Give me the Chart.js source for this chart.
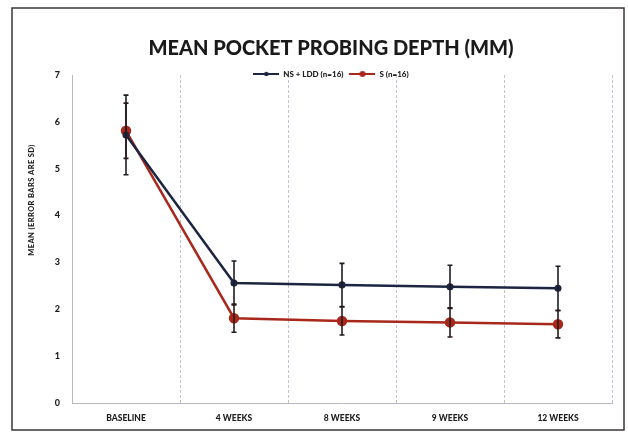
<!DOCTYPE html>
<html>
<head>
<meta charset="utf-8">
<script src="https://cdn.jsdelivr.net/npm/chart.js@4.4.1/dist/chart.umd.min.js"></script>
<style>
  html, body { margin: 0; padding: 0; background: #ffffff; }
  #wrap { width: 628px; height: 438px; position: relative; }
</style>
</head>
<body>
<div id="wrap"><canvas id="c" width="628" height="438"></canvas></div>
<script>
const categories = ['BASELINE', '4 WEEKS', '8 WEEKS', '9 WEEKS', '12 WEEKS'];
const nsLddMean = [5.72, 2.56, 2.52, 2.48, 2.45];
const nsLddSD   = [0.85, 0.47, 0.46, 0.46, 0.47];
const sMean     = [5.81, 1.81, 1.75, 1.72, 1.68];
const sSD       = [0.59, 0.30, 0.30, 0.31, 0.29];
const yTicks    = [0, 1, 2, 3, 4, 5, 6, 7];
const seriesNames = ['NS + LDD (n=16)', 'S (n=16)'];
const titleText = 'MEAN POCKET PROBING DEPTH (MM)';
const yTitleText = 'MEAN (ERROR BARS ARE SD)';

const NAVY = '#1d2540';
const RED = '#a8281b';
const FONT = 'Lato, "Open Sans", sans-serif';

function legendIcon(color, r) {
  const cv = document.createElement('canvas');
  cv.width = 26; cv.height = 10;
  const g = cv.getContext('2d');
  g.strokeStyle = color; g.lineWidth = 2;
  g.beginPath(); g.moveTo(0, 5); g.lineTo(26, 5); g.stroke();
  g.fillStyle = color;
  g.beginPath(); g.arc(13, 5, r, 0, Math.PI * 2); g.fill();
  return cv;
}
const icons = [legendIcon(NAVY, 2.2), legendIcon(RED, 3)];

const sdArrays = [nsLddSD, sSD];

const customPlugin = {
  id: 'custom',
  beforeDraw(chart) {
    const ctx = chart.ctx;
    ctx.save();
    ctx.fillStyle = '#ffffff';
    ctx.fillRect(0, 0, chart.width, chart.height);
    ctx.strokeStyle = '#3a3438';
    ctx.lineWidth = 1.5;
    ctx.strokeRect(12, 8, 612, 422);
    ctx.restore();
  },
  afterLayout(chart) {
    const t = chart.titleBlock;
    if (t) { t.left += 18; t.right += 18; const h = t.height; t.top = 49 - h / 2; t.bottom = t.top + h; }
    const l = chart.legend;
    if (l) { l.left += 18; l.right += 18; const h = l.height; l.top = 74 - 10; l.bottom = l.top + h; }
  },
  afterDatasetsDraw(chart) {
    const ctx = chart.ctx;
    const x = chart.scales.x, y = chart.scales.y;
    ctx.save();
    chart.data.datasets.forEach((ds, di) => {
      const sds = sdArrays[di];
      ds.data.forEach((v, i) => {
        const px = x.getPixelForValue(i);
        const top = y.getPixelForValue(v + sds[i]);
        const bot = y.getPixelForValue(v - sds[i]);
        ctx.strokeStyle = di === 0 ? '#1e1c26' : '#2a1a1a';
        ctx.lineWidth = 1.6;
        ctx.beginPath();
        ctx.moveTo(px, top); ctx.lineTo(px, bot);
        ctx.moveTo(px - 2.5, top); ctx.lineTo(px + 2.5, top);
        ctx.moveTo(px - 2.5, bot); ctx.lineTo(px + 2.5, bot);
        ctx.stroke();
      });
    });
    // y axis title
    const cy = 200;
    ctx.translate(32, cy);
    ctx.rotate(-Math.PI / 2);
    ctx.fillStyle = '#1c1c1c';
    ctx.font = '900 7.5px ' + FONT;
    try { ctx.letterSpacing = '0.4px'; } catch (e) {}
    ctx.textAlign = 'center';
    ctx.textBaseline = 'middle';
    ctx.fillText(yTitleText, 0, 0);
    ctx.restore();
  }
};

new Chart(document.getElementById('c'), {
  type: 'line',
  data: {
    labels: categories,
    datasets: [
      {
        label: seriesNames[0],
        data: nsLddMean,
        borderColor: NAVY,
        backgroundColor: NAVY,
        borderWidth: 2.5,
        pointRadius: 2.3,
        pointHoverRadius: 2.3,
        tension: 0
      },
      {
        label: seriesNames[1],
        data: sMean,
        borderColor: RED,
        backgroundColor: RED,
        borderWidth: 2.5,
        pointRadius: 4,
        pointHoverRadius: 4,
        tension: 0
      }
    ]
  },
  options: {
    responsive: false,
    animation: false,
    devicePixelRatio: 1,
    layout: { padding: { left: 14, right: 16, top: 27, bottom: 8 } },
    plugins: {
      title: {
        display: true,
        text: titleText,
        color: '#1a1a1a',
        font: { family: FONT, size: 20, weight: '900', lineHeight: 1.2 },
        padding: { top: 0, bottom: 0 }
      },
      legend: {
        display: true,
        labels: {
          usePointStyle: true,
          pointStyleWidth: 26,
          padding: 6,
          color: '#222',
          font: { family: FONT, size: 8, weight: '900' },
          generateLabels(chart) {
            return chart.data.datasets.map((ds, i) => ({
              text: ds.label,
              fillStyle: ds.borderColor,
              strokeStyle: ds.borderColor,
              fontColor: '#222',
              pointStyle: icons[i],
              lineWidth: 0,
              hidden: false,
              datasetIndex: i
            }));
          }
        }
      },
      tooltip: { enabled: false }
    },
    scales: {
      x: {
        offset: true,
        grid: {
          display: true,
          offset: true,
          color: '#bfc2d2',
          lineWidth: 1,
          drawTicks: false
        },
        border: { display: true, color: '#b8b8c0', dash: [3, 2], width: 1 },
        ticks: {
          color: '#1c1c1c',
          font: { family: FONT, size: 8.5, weight: '900' },
          padding: 10,
          maxRotation: 0
        },
        afterFit(s) { s.height = 27; }
      },
      y: {
        min: 0,
        max: 7,
        afterBuildTicks(s) { s.ticks = yTicks.map(v => ({ value: v })); },
        grid: { display: false, drawTicks: false },
        border: { display: true, color: '#b8b8c0', dash: [3, 2], width: 1 },
        ticks: {
          color: '#1c1c1c',
          font: { family: FONT, size: 9, weight: '900' },
          padding: 12
        },
        afterFit(s) { s.width = 58; }
      }
    }
  },
  plugins: [customPlugin]
});
</script>
</body>
</html>
